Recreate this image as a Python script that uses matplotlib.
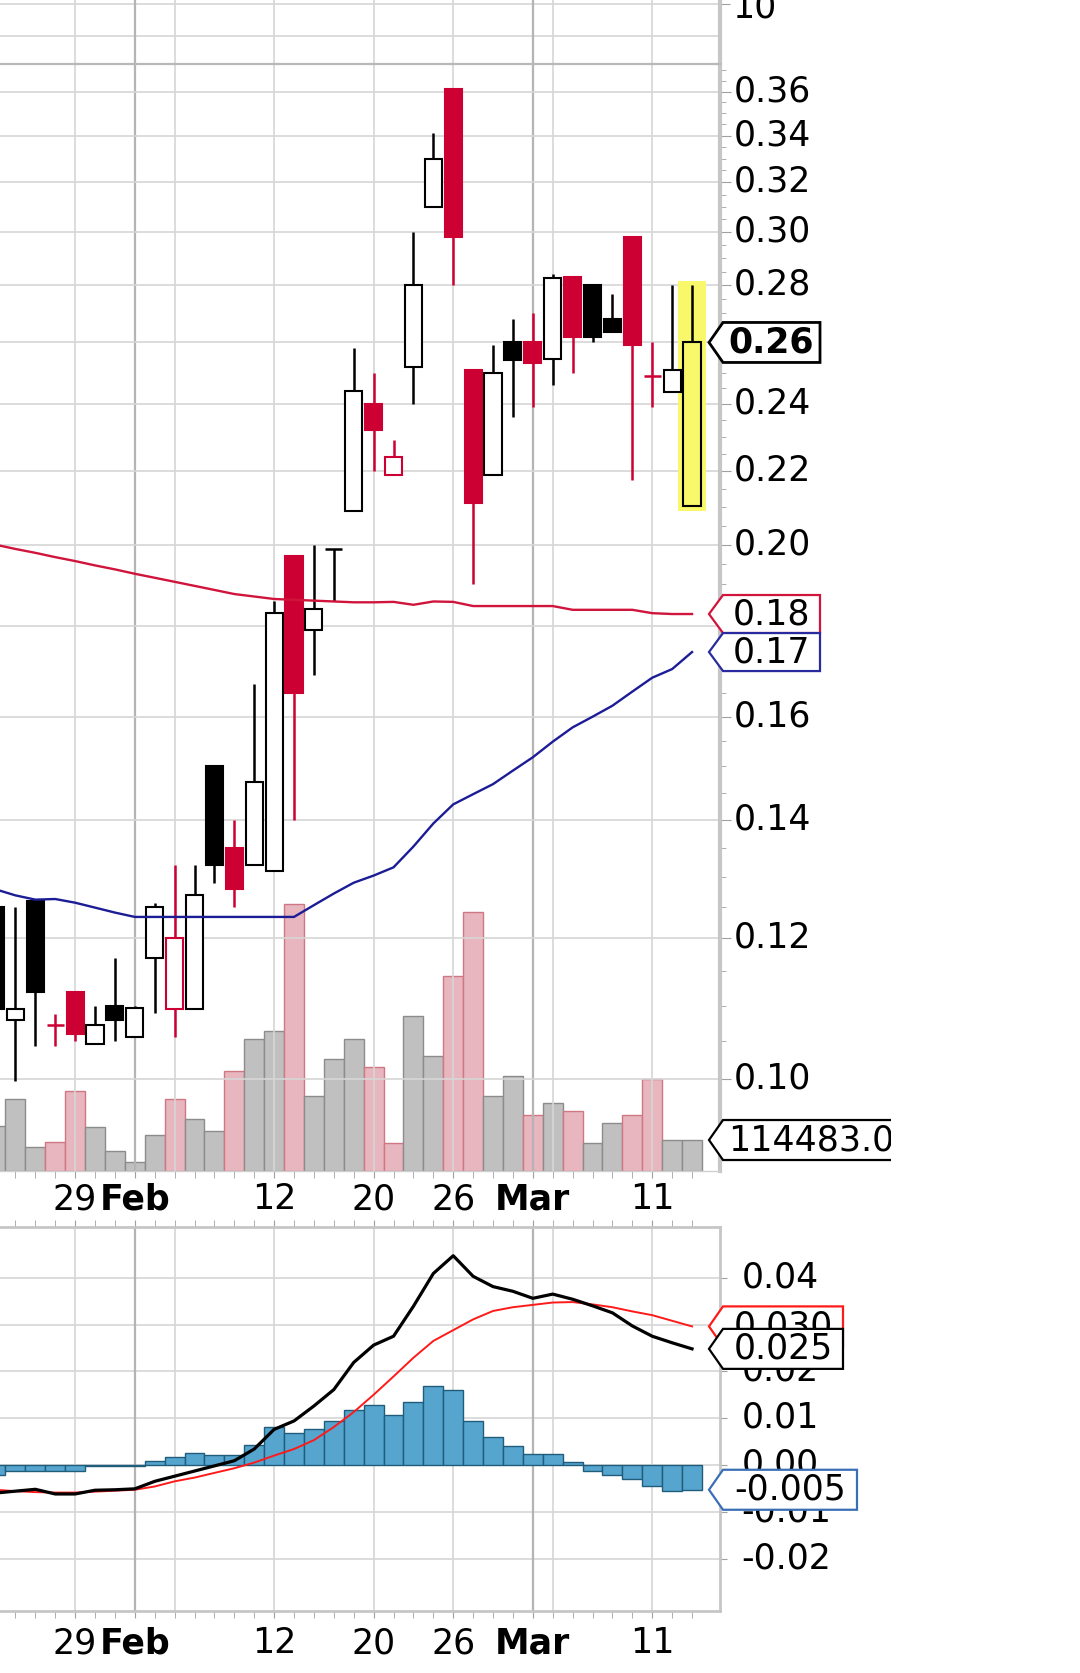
import numpy as np
import matplotlib
matplotlib.use("Agg")
import matplotlib.pyplot as plt
from matplotlib.patches import Polygon, Rectangle
from matplotlib.ticker import FixedLocator, FixedFormatter, NullFormatter
from matplotlib.transforms import Bbox, TransformedBbox, ScaledTranslation

plt.rcParams['font.family'] = ['DejaVu Sans']

# --- daily bars, oldest first (the last one is the highlighted day) ---
opens = [0.125, 0.108, 0.126, 0.1073, 0.112, 0.1046, 0.110, 0.1056, 0.117, 0.1095,
         0.1095, 0.150, 0.135, 0.132, 0.131, 0.197, 0.179, 0.199, 0.209, 0.240,
         0.219, 0.252, 0.310, 0.361, 0.251, 0.219, 0.260, 0.260, 0.2545, 0.283,
         0.280, 0.268, 0.298, 0.249, 0.2437, 0.2104]
highs = [0.126, 0.125, 0.126, 0.1088, 0.112, 0.110, 0.117, 0.110, 0.1256, 0.132,
         0.132, 0.150, 0.140, 0.167, 0.186, 0.197, 0.200, 0.199, 0.258, 0.250,
         0.229, 0.300, 0.341, 0.361, 0.251, 0.259, 0.268, 0.270, 0.284, 0.283,
         0.280, 0.277, 0.298, 0.260, 0.280, 0.280]
lows = [0.109, 0.0998, 0.1044, 0.1044, 0.105, 0.1046, 0.105, 0.1056, 0.109, 0.1056,
        0.1095, 0.129, 0.125, 0.132, 0.131, 0.140, 0.169, 0.186, 0.209, 0.220,
        0.219, 0.240, 0.310, 0.280, 0.190, 0.219, 0.236, 0.239, 0.246, 0.250,
        0.260, 0.2635, 0.2175, 0.239, 0.2437, 0.2104]
closes = [0.1095, 0.1095, 0.112, 0.1073, 0.106, 0.1073, 0.108, 0.1096, 0.125, 0.120,
          0.127, 0.132, 0.128, 0.147, 0.183, 0.165, 0.184, 0.199, 0.244, 0.232,
          0.224, 0.280, 0.330, 0.298, 0.211, 0.250, 0.254, 0.253, 0.2826, 0.262,
          0.262, 0.2635, 0.259, 0.249, 0.251, 0.260]
volumes = [167300, 265900, 87500, 106000, 296600, 163600, 75000, 32100, 134100, 265900,
           192000, 148800, 370400, 487500, 515900, 986000, 278100, 413600, 487500, 383000,
           102300, 573500, 425800, 721300, 957600, 278100, 351900, 206800, 250000, 220500,
           102300, 176200, 206800, 339800, 114300, 114483]

# moving averages
ma_red = [0.2000, 0.1989, 0.1979, 0.1968, 0.1958, 0.1947, 0.1937, 0.1926, 0.1916, 0.1906,
          0.1896, 0.1886, 0.1876, 0.1870, 0.1864, 0.1862, 0.1860, 0.1858, 0.1856, 0.1856,
          0.1857, 0.1850, 0.1858, 0.1857, 0.1847, 0.1847, 0.1847, 0.1847, 0.1847, 0.1838,
          0.1838, 0.1838, 0.1838, 0.1830, 0.1828, 0.1828]
ma_blue = [0.1279, 0.1269, 0.1262, 0.1263, 0.1257, 0.1249, 0.1241, 0.1234, 0.1234, 0.1234,
           0.1234, 0.1234, 0.1234, 0.1234, 0.1234, 0.1234, 0.1253, 0.1272, 0.1290, 0.1302,
           0.1316, 0.1352, 0.1393, 0.1428, 0.1447, 0.1466, 0.1492, 0.1518, 0.1549, 0.1578,
           0.1600, 0.1623, 0.1653, 0.1683, 0.1702, 0.1740]

# MACD panel
macd_line = [-0.0060, -0.0056, -0.0052, -0.0062, -0.0062, -0.0054, -0.0053, -0.0051, -0.0035, -0.0024,
             -0.0013, -0.0002, 0.0009, 0.0034, 0.0076, 0.0094, 0.0126, 0.0161, 0.0219, 0.0256,
             0.0275, 0.0339, 0.0409, 0.0447, 0.0403, 0.0381, 0.0371, 0.0356, 0.0365, 0.0354,
             0.0340, 0.0325, 0.0297, 0.0275, 0.0261, 0.0248]
macd_signal = [-0.0053, -0.0056, -0.0058, -0.0059, -0.0059, -0.0057, -0.0055, -0.0053, -0.0046, -0.0035,
               -0.0027, -0.0017, -0.0007, 0.0005, 0.0020, 0.0034, 0.0053, 0.0081, 0.0113, 0.0150,
               0.0189, 0.0229, 0.0265, 0.0288, 0.0311, 0.0329, 0.0337, 0.0342, 0.0347, 0.0348,
               0.0343, 0.0337, 0.0328, 0.0320, 0.0308, 0.0296]
macd_hist = [-0.0021, -0.0012, -0.0012, -0.0012, -0.0012, -0.0003, -0.0003, -0.0003, 0.0009, 0.0016,
             0.0025, 0.0021, 0.0021, 0.0043, 0.0082, 0.0068, 0.0076, 0.0093, 0.0118, 0.0128,
             0.0107, 0.0135, 0.0169, 0.0160, 0.0093, 0.0059, 0.0041, 0.0024, 0.0024, 0.0007,
             -0.0012, -0.0021, -0.0031, -0.0046, -0.0055, -0.0053]

# axis labels
date_ticks = [4, 7, 14, 19, 23, 27, 33]
date_labels = ['29', 'Feb', '12', '20', '26', 'Mar', '11']
grid_days = [4, 7, 9, 14, 19, 23, 27, 28, 33]
month_days = [7, 27]
price_ticks = [0.10, 0.12, 0.14, 0.16, 0.18, 0.20, 0.22, 0.24, 0.26, 0.28, 0.30, 0.32, 0.34, 0.36]
# 0.18 and 0.26 sit under the value tags, so their text is left blank
price_labels = ['' if v in (0.18, 0.26) else '%.2f' % v for v in price_ticks]
macd_ticks = [-0.02, -0.01, 0.0, 0.01, 0.02, 0.03, 0.04]
macd_labels = ['-0.02', '-0.01', '0.00', '0.01', '0.02', '0.03', '0.04']

CRIMSON = '#cc0033'
GRID = '#d6d6d6'
MONTH = '#b4b4b4'
SPINE = '#c6c6c6'
FS = 25

W, H = 1080, 1673
fig = plt.figure(figsize=(W / 100, H / 100), dpi=100)
fig.patch.set_facecolor('white')
lift = ScaledTranslation(0, 4 / 100, fig.dpi_scale_trans)   # labels sit a little above their grid line


def rect(x0, y0, x1, y1):
    # pixel box (top-left origin) -> figure fraction
    return [x0 / W, 1 - y1 / H, (x1 - x0) / W, (y1 - y0) / H]


n = len(closes)
x = np.arange(n)
xlim = (0.226, 36.38)

ax_top = fig.add_axes(rect(0, 0, 719.5, 64), zorder=2)
ax_vol = fig.add_axes(rect(0, 64, 719.5, 1171), zorder=1)
ax = fig.add_axes(rect(0, 64, 719.5, 1171), zorder=2)
ax_macd = fig.add_axes(rect(0, 1226.7, 719.5, 1611), zorder=2)

for a in (ax_top, ax_vol, ax, ax_macd):
    a.set_xlim(*xlim)

# --- top sliver of the panel above ---
ax_top.set_ylim(0.59, 10.56)
ax_top.patch.set_alpha(0)
ax_top.yaxis.tick_right()
ax_top.set_yticks([10])
ax_top.set_yticklabels(['10'])
ax_top.tick_params(axis='y', length=7, pad=2, labelsize=FS, color='#a0a0a0')
ax_top.set_xticks([])
for v in (5, 10):
    ax_top.axhline(v, color=GRID, lw=1.2, zorder=0)
for d in grid_days:
    ax_top.axvline(d, color=MONTH if d in month_days else GRID, lw=1.6 if d in month_days else 1.2, zorder=0)
for s in ('left', 'top', 'bottom'):
    ax_top.spines[s].set_visible(False)
ax_top.spines['right'].set_color(SPINE)
ax_top.spines['right'].set_linewidth(3)

# --- volume (behind the prices) ---
red_day = [i > 0 and closes[i] < closes[i - 1] for i in range(n)]
vol_face = ['#e8b6be' if r else '#c0c0c0' for r in red_day]
vol_edge = ['#d07784' if r else '#8c8c8c' for r in red_day]
ax_vol.bar(x, volumes, width=1.0, color=vol_face, edgecolor=vol_edge, lw=1)
ax_vol.set_ylim(0, 4.09e6)
ax_vol.axis('off')

# --- price panel ---
ax.patch.set_alpha(0)
ax.set_yscale('log')
ax.set_ylim(0.08875, 0.37313)
ax.yaxis.tick_right()
ax.yaxis.set_major_locator(FixedLocator(price_ticks))
ax.yaxis.set_major_formatter(FixedFormatter(price_labels))
minor = [round(0.09 + 0.005 * k, 3) for k in range(57)]
minor = [m for m in minor if all(abs(m - t) > 1e-6 for t in price_ticks)]
ax.yaxis.set_minor_locator(FixedLocator(minor))
ax.yaxis.set_minor_formatter(NullFormatter())
ax.tick_params(axis='y', which='major', length=8, pad=2, labelsize=FS, color='#a0a0a0')
ax.tick_params(axis='y', which='minor', length=4, color='#a0a0a0')
for lab in ax.get_yticklabels():
    lab.set_transform(lab.get_transform() + lift)
ax.grid(axis='y', which='major', color=GRID, lw=1.2)
for d in grid_days:
    ax.axvline(d, color=MONTH if d in month_days else GRID, lw=1.6 if d in month_days else 1.2, zorder=0.6)

ax.set_xticks(date_ticks)
ax.set_xticklabels(date_labels)
ax.xaxis.set_minor_locator(FixedLocator(list(x)))
ax.tick_params(axis='x', which='both', length=5, color='#a0a0a0', direction='out')
ax.tick_params(axis='x', which='major', labelsize=FS, pad=3)
for lab in ax.get_xticklabels():
    if lab.get_text() in ('Feb', 'Mar'):
        lab.set_fontweight('bold')

ax.spines['left'].set_visible(False)
ax.spines['top'].set_color('#b8b8b8')
ax.spines['top'].set_linewidth(1.6)
ax.spines['right'].set_color(SPINE)
ax.spines['right'].set_linewidth(3)
ax.spines['bottom'].set_color('#cfcfcf')
ax.spines['bottom'].set_linewidth(1)

# highlight behind the last bar
last = n - 1
ax.add_patch(Rectangle((last - 0.7, lows[last] * 0.993), 1.4, highs[last] * 1.006 - lows[last] * 0.993,
                       facecolor='#f8f86a', edgecolor='none', zorder=2))

bw = 0.86
for i in range(n):
    col = CRIMSON if red_day[i] else 'black'
    o, c = opens[i], closes[i]
    ax.vlines(i, lows[i], highs[i], color=col, lw=1.8, zorder=3)
    if abs(o - c) < 1e-9:
        ax.hlines(c, i - bw / 2, i + bw / 2, color=col, lw=1.8, zorder=4)
    else:
        lo, hi = min(o, c), max(o, c)
        filled = c < o
        face = col if filled else ('#f8f86a' if i == last else 'white')
        ax.add_patch(Rectangle((i - bw / 2, lo), bw, hi - lo, facecolor=face,
                               edgecolor=col, lw=1.5, zorder=4))

ax.plot(x, ma_red, color='#d0143c', lw=1.7, zorder=5)
ax.plot(x, ma_blue, color='#1c1c96', lw=1.7, zorder=5)

# --- MACD panel ---
ax_macd.set_ylim(-0.0312, 0.0509)
ax_macd.bar(x, macd_hist, width=1.0, color='#56a5cf', edgecolor='#1f5d7a', lw=1, zorder=2)
ax_macd.plot(x, macd_signal, color='#ff1a1a', lw=1.4, zorder=3)
ax_macd.plot(x, macd_line, color='black', lw=2.3, zorder=4)
ax_macd.yaxis.tick_right()
ax_macd.set_yticks(macd_ticks)
ax_macd.set_yticklabels(macd_labels)
ax_macd.tick_params(axis='y', length=5, pad=11, labelsize=FS, color='#a0a0a0')
for lab in ax_macd.get_yticklabels():
    lab.set_transform(lab.get_transform() + lift)
ax_macd.grid(axis='y', color=GRID, lw=1.2)
ax_macd.set_axisbelow(True)
for d in grid_days:
    ax_macd.axvline(d, color=MONTH if d in month_days else GRID, lw=1.6 if d in month_days else 1.2, zorder=0.6)
ax_macd.set_xticks(date_ticks)
ax_macd.set_xticklabels(date_labels)
ax_macd.xaxis.set_minor_locator(FixedLocator(list(x)))
ax_macd.tick_params(axis='x', which='both', length=5, color='#a0a0a0', direction='out', top=True)
ax_macd.tick_params(axis='x', which='major', labelsize=FS, pad=6)
for lab in ax_macd.get_xticklabels():
    if lab.get_text() in ('Feb', 'Mar'):
        lab.set_fontweight('bold')
ax_macd.spines['left'].set_visible(False)
for s in ('top', 'right', 'bottom'):
    ax_macd.spines[s].set_color(SPINE)
    ax_macd.spines[s].set_linewidth(2)

# --- value tags on the right axis ---
clip = TransformedBbox(Bbox.from_extents(0, 0, 891 / W, 1), fig.transFigure)


def tag(axis, value, text, edge, z, right=820, bold=False, left_text=None, half=20, lw=1.6):
    yd = axis.transData.transform((axis.get_xlim()[0], value))[1]
    pts = [(709, yd), (723, yd + half), (right, yd + half), (right, yd - half), (723, yd - half)]
    poly = Polygon([(px / W, py / H) for px, py in pts], closed=True, transform=fig.transFigure,
                   facecolor='white', edgecolor=edge, lw=lw, zorder=z)
    fig.add_artist(poly)
    if left_text is None:
        t = fig.text((723 + right) / 2 / W, yd / H, text, ha='center', va='center', fontsize=FS,
                     fontweight='bold' if bold else 'normal', zorder=z + 0.5)
    else:
        t = fig.text(left_text / W, yd / H, text, ha='left', va='center', fontsize=FS, zorder=z + 0.5)
    poly.set_clip_box(clip)
    t.set_clip_box(clip)
    t.set_clip_on(True)


tag(ax, closes[-1], '%.2f' % closes[-1], 'black', 10, bold=True, lw=2)
tag(ax, ma_red[-1], '%.2f' % ma_red[-1], '#d0143c', 10, half=19)
tag(ax, ma_blue[-1], '%.2f' % ma_blue[-1], '#2a2aa0', 12, half=19)
tag(ax_vol, volumes[-1], '%.1f' % volumes[-1], 'black', 10, right=960, left_text=728)
tag(ax_macd, macd_signal[-1], '%.3f' % macd_signal[-1], '#ff1a1a', 10, right=843)
tag(ax_macd, macd_line[-1], '%.3f' % macd_line[-1], 'black', 12, right=843)
tag(ax_macd, macd_hist[-1], '%.3f' % macd_hist[-1], '#3a6fb5', 14, right=857)

fig.savefig('out.png', dpi=100, facecolor='white')
